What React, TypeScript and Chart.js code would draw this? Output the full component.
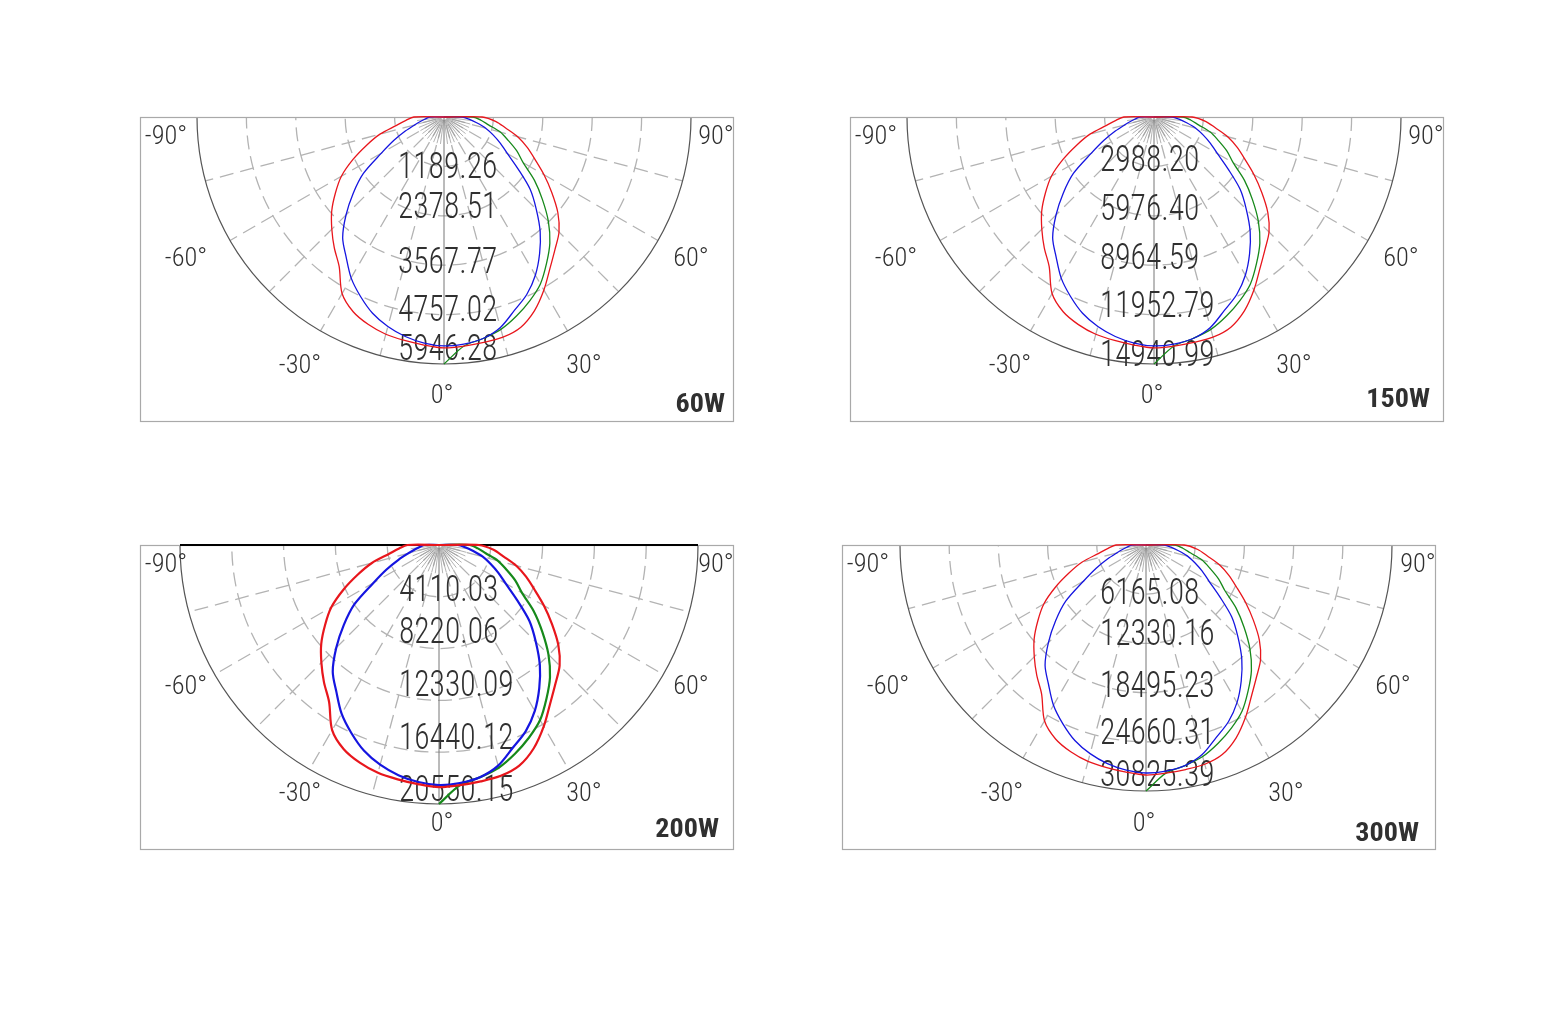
import React, { useEffect, useRef } from 'react';
import { Chart, registerables } from 'chart.js';

Chart.register(...registerables);

// ---------- DATA ----------
const ANGLES = [-90, -85, -80, -75, -70, -65, -60, -55, -50, -45, -40, -35, -30, -25, -20, -15, -10, -5, 0, 5, 10, 15, 20, 25, 30, 35, 40, 45, 50, 55, 60, 65, 70, 75, 80, 85, 90];
const GREEN_ANGLES = [0, 5, 10, 15, 20, 25, 30, 35, 40, 45, 50, 55, 60, 65, 70, 75, 80, 85, 90];

const ANGLE_TICKS = ['-90°', '90°', '-60°', '60°', '-30°', '30°', '0°'];
const PANEL_TITLES = ['60W', '150W', '200W', '300W'];

const RINGS_60W = ['1189.26', '2378.51', '3567.77', '4757.02', '5946.28'];
const RINGS_150W = ['2988.20', '5976.40', '8964.59', '11952.79', '14940.99'];
const RINGS_200W = ['4110.03', '8220.06', '12330.09', '16440.12', '20550.15'];
const RINGS_300W = ['6165.08', '12330.16', '18495.23', '24660.31', '30825.39'];

const RED_60W = [725, 919, 1160, 1595, 1982, 2417, 2852, 3191, 3529, 3819, 4109, 4399, 4907, 5173, 5318, 5415, 5463, 5511, 5560, 5535, 5511, 5487, 5390, 5149, 4810, 4448, 4158, 3916, 3577, 3167, 2780, 2417, 2127, 1837, 1499, 1257, 919];
const BLUE_60W = [338, 435, 556, 725, 991, 1329, 1740, 2369, 2852, 3336, 3795, 4109, 4472, 4762, 5028, 5221, 5366, 5463, 5511, 5487, 5415, 5245, 4955, 4714, 4399, 4013, 3602, 3142, 2707, 2175, 1765, 1499, 1257, 1039, 798, 604, 435];
const GREEN_60W = [5946, 5535, 5415, 5294, 5100, 4883, 4641, 4303, 3964, 3553, 3094, 2659, 2200, 1934, 1644, 1402, 1088, 894, 701];

const RED_150W = [1822, 2309, 2915, 4008, 4980, 6073, 7166, 8018, 8867, 9596, 10325, 11053, 12330, 12998, 13363, 13606, 13727, 13847, 13971, 13908, 13847, 13787, 13543, 12938, 12086, 11177, 10448, 9840, 8988, 7958, 6985, 6073, 5345, 4616, 3767, 3158, 2309];
const BLUE_150W = [849, 1093, 1397, 1822, 2490, 3339, 4372, 5953, 7166, 8382, 9536, 10325, 11237, 11965, 12634, 13119, 13483, 13727, 13847, 13787, 13606, 13179, 12450, 11845, 11053, 10083, 9051, 7895, 6802, 5465, 4435, 3767, 3158, 2611, 2005, 1518, 1093];
const GREEN_150W = [14941, 13908, 13606, 13302, 12815, 12270, 11662, 10812, 9960, 8928, 7774, 6681, 5528, 4860, 4131, 3523, 2734, 2246, 1761];

const RED_200W = [2506, 3176, 4009, 5512, 6850, 8353, 9856, 11028, 12196, 13198, 14201, 15203, 16959, 17878, 18379, 18714, 18880, 19046, 19215, 19129, 19046, 18963, 18628, 17795, 16623, 15372, 14370, 13534, 12362, 10945, 9608, 8353, 7351, 6349, 5181, 4344, 3176];
const BLUE_200W = [1168, 1503, 1922, 2506, 3425, 4593, 6013, 8187, 9856, 11529, 13116, 14201, 15455, 16457, 17377, 18044, 18545, 18880, 19046, 18963, 18714, 18127, 17124, 16292, 15203, 13869, 12449, 10859, 9355, 7517, 6100, 5181, 4344, 3591, 2758, 2087, 1503];
const GREEN_200W = [20550, 19129, 18714, 18296, 17626, 16876, 16039, 14871, 13700, 12279, 10693, 9190, 7603, 6684, 5682, 4845, 3760, 3090, 2423];

const RED_300W = [3758, 4764, 6013, 8268, 10275, 12530, 14785, 16542, 18294, 19798, 21301, 22804, 25438, 26817, 27569, 28071, 28320, 28569, 28823, 28693, 28569, 28445, 27942, 26692, 24935, 23058, 21555, 20301, 18543, 16418, 14412, 12530, 11026, 9523, 7771, 6516, 4764];
const BLUE_300W = [1752, 2255, 2882, 3758, 5137, 6890, 9020, 12281, 14785, 17294, 19673, 21301, 23183, 24686, 26065, 27066, 27817, 28320, 28569, 28445, 28071, 27190, 25687, 24437, 22804, 20803, 18673, 16288, 14033, 11275, 9150, 7771, 6516, 5386, 4137, 3131, 2255];
const GREEN_300W = [30825, 28693, 28071, 27444, 26438, 25314, 24059, 22307, 20549, 18419, 16039, 13784, 11405, 10026, 8522, 7268, 5640, 4634, 3634];

const GRID_SPOKES = [-75, -60, -45, -30, -15, 15, 30, 45, 60, 75];

// ---------- LAYOUT ----------
const PAD = 14;
const BOX_W = 593;
const BOX_H = 304;

type PanelLayout = {
  left: number; top: number; cxOff: number; radius: number;
  labelX: number; labelDy: number[]; titleRight: number; titleCy: number;
  lineWidth: number; topLine: boolean;
};

const LAYOUTS: PanelLayout[] = [
  { left: 140, top: 117, cxOff: 304, radius: 247, labelX: 258, labelDy: [48, 88, 143, 191, 230], titleRight: 585, titleCy: 286, lineWidth: 1.3, topLine: false },
  { left: 850, top: 117, cxOff: 304, radius: 247, labelX: 250, labelDy: [41, 90, 139, 187, 236], titleRight: 580, titleCy: 281, lineWidth: 1.3, topLine: false },
  { left: 140, top: 545, cxOff: 299, radius: 259, labelX: 259, labelDy: [43, 85, 138, 191, 243], titleRight: 579, titleCy: 283, lineWidth: 2.2, topLine: true },
  { left: 842, top: 545, cxOff: 304, radius: 246, labelX: 258, labelDy: [46, 87, 139, 186, 228], titleRight: 577, titleCy: 287, lineWidth: 1.3, topLine: false },
];

const ANGLE_LABEL_POS = [[26, 18], [576, 18], [46, 140], [551, 140], [160, 247], [444, 247], [302, 277]];

const PANELS = [
  { title: PANEL_TITLES[0], rings: RINGS_60W, red: RED_60W, blue: BLUE_60W, green: GREEN_60W },
  { title: PANEL_TITLES[1], rings: RINGS_150W, red: RED_150W, blue: BLUE_150W, green: GREEN_150W },
  { title: PANEL_TITLES[2], rings: RINGS_200W, red: RED_200W, blue: BLUE_200W, green: GREEN_200W },
  { title: PANEL_TITLES[3], rings: RINGS_300W, red: RED_300W, blue: BLUE_300W, green: GREEN_300W },
];

const TEXT_COLOR = '#303030';
const FONT_FAMILY = '"Roboto Condensed", "Liberation Sans Narrow", "Liberation Sans", Arial, sans-serif';

function toXY(angles: number[], values: number[]) {
  return angles.map((a, i) => {
    const t = (a * Math.PI) / 180;
    return { x: values[i] * Math.sin(t), y: -values[i] * Math.cos(t) };
  });
}

function drawText(ctx: CanvasRenderingContext2D, text: string, x: number, cyMid: number, sizePx: number, weight: number, digitW: number, align: 'left' | 'center' | 'right') {
  ctx.save();
  ctx.font = `${weight} ${sizePx}px ${FONT_FAMILY}`;
  const s = digitW / ctx.measureText('0').width;
  const w = ctx.measureText(text).width * s;
  const x0 = align === 'left' ? x : align === 'right' ? x - w : x - w / 2;
  ctx.translate(x0, cyMid + 0.358 * sizePx);
  ctx.scale(s, 1);
  ctx.textAlign = 'left';
  ctx.textBaseline = 'alphabetic';
  ctx.fillStyle = TEXT_COLOR;
  ctx.fillText(text, 0, 0);
  ctx.restore();
}

function Panel({ index }: { index: number }) {
  const ref = useRef<HTMLCanvasElement>(null);
  const lay = LAYOUTS[index];
  const p = PANELS[index];
  const W = BOX_W + 1 + PAD * 2;
  const H = BOX_H + 1 + PAD * 2;

  useEffect(() => {
    if (!ref.current) return;
    const ringVals = p.rings.map((s) => parseFloat(s));
    const maxRing = ringVals[ringVals.length - 1];
    const cdPerPx = maxRing / lay.radius;
    const cxC = PAD + lay.cxOff;
    const cyC = PAD;

    const gridPlugin = {
      id: 'polarGrid',
      beforeDatasetsDraw(chart: any) {
        const ctx: CanvasRenderingContext2D = chart.ctx;
        const xs = chart.scales.x;
        const ys = chart.scales.y;
        const cx = xs.getPixelForValue(0);
        const cy = ys.getPixelForValue(0);
        const rOf = (v: number) => xs.getPixelForValue(v) - cx;
        const R = rOf(maxRing);
        ctx.save();

        // dashed rings
        ctx.strokeStyle = '#b3b3b3';
        ctx.lineWidth = 1.3;
        ctx.setLineDash([14, 7]);
        for (let i = 0; i < ringVals.length - 1; i++) {
          ctx.beginPath();
          ctx.arc(cx, cy, rOf(ringVals[i]), 0, Math.PI);
          ctx.stroke();
        }
        // dashed spokes
        for (const a of GRID_SPOKES) {
          const t = (a * Math.PI) / 180;
          ctx.beginPath();
          ctx.moveTo(cx + 8 * Math.sin(t), cy + 8 * Math.cos(t));
          ctx.lineTo(cx + R * Math.sin(t), cy + R * Math.cos(t));
          ctx.stroke();
        }
        ctx.setLineDash([]);
        // starburst
        ctx.strokeStyle = '#a0a0a0';
        ctx.lineWidth = 0.8;
        for (let a = -82.5; a <= 82.5; a += 7.5) {
          if (Math.abs(a) < 1) continue;
          const t = (a * Math.PI) / 180;
          ctx.beginPath();
          ctx.moveTo(cx + 3 * Math.sin(t), cy + 3 * Math.cos(t));
          ctx.lineTo(cx + R * 0.11 * Math.sin(t), cy + R * 0.11 * Math.cos(t));
          ctx.stroke();
        }
        // vertical centre line
        ctx.strokeStyle = '#777';
        ctx.lineWidth = 1;
        ctx.beginPath();
        ctx.moveTo(cx, cy);
        ctx.lineTo(cx, cy + R);
        ctx.stroke();
        // outer arc
        ctx.strokeStyle = '#555';
        ctx.lineWidth = 1.2;
        ctx.beginPath();
        ctx.arc(cx, cy, R, 0, Math.PI);
        ctx.stroke();
        // box
        ctx.strokeStyle = '#a9a9a9';
        ctx.lineWidth = 1.2;
        ctx.strokeRect(PAD + 0.5, PAD + 0.5, BOX_W, BOX_H);
        if (lay.topLine) {
          ctx.strokeStyle = '#000';
          ctx.lineWidth = 2;
          ctx.beginPath();
          ctx.moveTo(cx - R, cy);
          ctx.lineTo(cx + R, cy);
          ctx.stroke();
        }
        // ring value labels
        p.rings.forEach((s, i) => {
          drawText(ctx, s, PAD + lay.labelX, cy + lay.labelDy[i], 37, 300, 15.3, 'left');
        });
        // angle labels
        ANGLE_TICKS.forEach((s, i) => {
          const [dx, dy] = ANGLE_LABEL_POS[i];
          drawText(ctx, s, PAD + dx, PAD + dy, 25, 300, 12.8, 'center');
        });
        // title
        drawText(ctx, p.title, PAD + lay.titleRight, PAD + lay.titleCy, 26, 700, 14.2, 'right');
        ctx.restore();
      },
    };

    const ds = (data: any[], color: string) => ({
      data,
      showLine: true,
      borderColor: color,
      backgroundColor: color,
      borderWidth: lay.lineWidth,
      pointRadius: 0,
      fill: false,
      tension: 0.3,
    });

    const origin = { x: 0, y: 0 };
    const chart = new Chart(ref.current, {
      type: 'scatter',
      data: {
        datasets: [
          ds([origin, ...toXY(ANGLES, p.red), origin], '#e8161c'),
          ds([origin, ...toXY(ANGLES, p.blue), origin], '#1515e0'),
          ds([...toXY(GREEN_ANGLES, p.green), origin], '#16891a'),
        ],
      },
      options: {
        responsive: false,
        animation: false,
        devicePixelRatio: 1,
        layout: { padding: 0 },
        plugins: { legend: { display: false }, tooltip: { enabled: false } },
        scales: {
          x: { type: 'linear', display: false, min: -cxC * cdPerPx, max: (W - cxC) * cdPerPx },
          y: { type: 'linear', display: false, min: -(H - cyC) * cdPerPx, max: cyC * cdPerPx },
        },
      },
      plugins: [gridPlugin],
    } as any);
    return () => chart.destroy();
  }, [index]);

  return (
    <canvas
      ref={ref}
      width={W}
      height={H}
      style={{ position: 'absolute', left: lay.left - PAD, top: lay.top - PAD, width: W, height: H }}
    />
  );
}

export default function App() {
  return (
    <div style={{ position: 'absolute', left: 0, top: 0, width: 1560, height: 1029, background: '#fff', overflow: 'hidden' }}>
      {PANELS.map((_, i) => (
        <Panel key={i} index={i} />
      ))}
    </div>
  );
}
